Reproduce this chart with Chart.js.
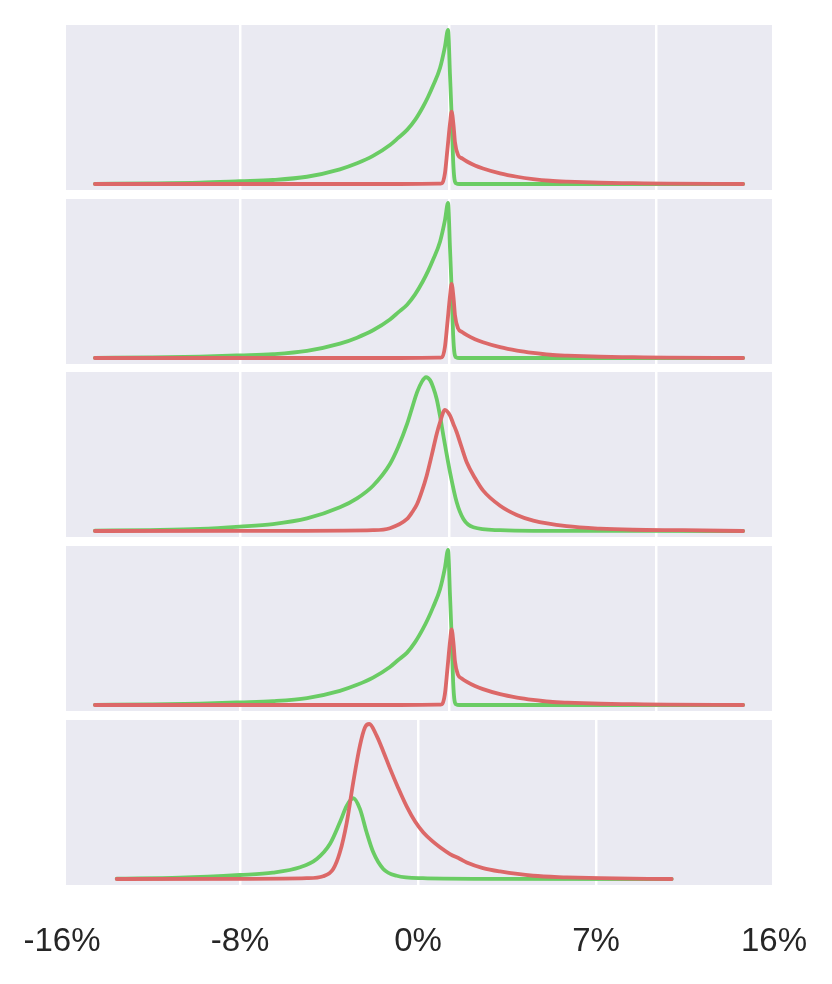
<!DOCTYPE html>
<html>
<head>
<meta charset="utf-8">
<script src="https://cdn.jsdelivr.net/npm/chart.js@4"></script>
<style>
  body { margin:0; background:#fff; }
  #wrap { position:relative; width:832px; height:984px; }
  canvas { position:absolute; left:0; }
</style>
</head>
<body>
<div id="wrap">
  <canvas id="p1" width="832" height="165" style="top:25px"></canvas>
  <canvas id="p2" width="832" height="165" style="top:199px"></canvas>
  <canvas id="p3" width="832" height="165" style="top:372px"></canvas>
  <canvas id="p4" width="832" height="165" style="top:546px"></canvas>
  <canvas id="p5" width="832" height="264" style="top:720px"></canvas>
</div>
<script>
// shared bottom axis
const tickLabels = ['-16%', '-8%', '0%', '7%', '16%'];
const tickPos = [-16, -8, 0, 8, 16];
const gridTop = [-8, 1.39, 10.73];   // white lines in panels 1-4
const gridBottom = [-8, 0, 8];       // white lines in panel 5

// panels 1, 2, 4 (same x grid)
const sharpGreenX = [-14.52, -12.04, -9.80, -8.00, -6.52, -4.99, -3.51, -2.74, -2.02, -1.26, -0.89, -0.49, -0.13, 0.22, 0.45, 0.67, 0.99, 1.21, 1.35, 1.44, 1.51, 1.58, 1.64, 1.72, 1.85, 14.61];
const p1GreenY = [0.001, 0.004, 0.009, 0.018, 0.026, 0.047, 0.095, 0.134, 0.182, 0.253, 0.299, 0.351, 0.416, 0.500, 0.565, 0.636, 0.753, 0.890, 1.000, 0.700, 0.450, 0.150, 0.030, 0.004, 0, 0];
const p2GreenY = [0.001, 0.004, 0.009, 0.017, 0.025, 0.046, 0.093, 0.132, 0.180, 0.250, 0.296, 0.346, 0.413, 0.498, 0.564, 0.636, 0.755, 0.893, 1.006, 0.705, 0.452, 0.150, 0.030, 0.004, 0, 0];
const p4GreenY = [0.001, 0.004, 0.009, 0.017, 0.025, 0.045, 0.092, 0.131, 0.178, 0.247, 0.292, 0.340, 0.408, 0.494, 0.560, 0.632, 0.752, 0.890, 1.006, 0.705, 0.452, 0.150, 0.030, 0.004, 0, 0];

const sharpRedX = [-14.52, -5.30, -0.81, 0.90, 1.08, 1.21, 1.32, 1.44, 1.51, 1.60, 1.66, 1.80, 1.98, 2.20, 2.56, 2.92, 3.69, 4.45, 5.17, 5.93, 6.70, 8.18, 9.66, 11.19, 14.61];
const p1RedY = [0, 0, 0, 0.002, 0.005, 0.069, 0.221, 0.394, 0.469, 0.377, 0.273, 0.188, 0.166, 0.146, 0.120, 0.101, 0.069, 0.047, 0.032, 0.021, 0.015, 0.008, 0.005, 0.002, 0];
const p2RedY = [0, 0, 0, 0.002, 0.005, 0.071, 0.226, 0.404, 0.481, 0.386, 0.280, 0.192, 0.169, 0.148, 0.122, 0.102, 0.070, 0.048, 0.033, 0.021, 0.015, 0.008, 0.005, 0.002, 0];
const p4RedY = [0, 0, 0, 0.002, 0.005, 0.072, 0.230, 0.412, 0.490, 0.393, 0.284, 0.195, 0.171, 0.150, 0.123, 0.103, 0.070, 0.048, 0.033, 0.021, 0.015, 0.008, 0.005, 0.002, 0];

// panel 3
const p3GreenX = [-14.52, -12.04, -9.80, -8.00, -6.52, -4.99, -3.51, -2.74, -2.02, -1.26, -0.89, -0.49, -0.28, -0.04, 0.17, 0.36, 0.54, 0.69, 0.84, 0.99, 1.14, 1.44, 1.74, 2.04, 2.49, 3.69, 5.17, 14.61];
const p3GreenY = [0.002, 0.006, 0.013, 0.028, 0.045, 0.082, 0.154, 0.212, 0.294, 0.435, 0.545, 0.695, 0.792, 0.901, 0.968, 0.998, 0.979, 0.929, 0.857, 0.747, 0.619, 0.381, 0.186, 0.078, 0.024, 0.005, 0.001, 0];
const p3RedX = [-14.52, -5.30, -2.02, -1.26, -0.49, -0.27, -0.04, 0.18, 0.39, 0.62, 0.84, 0.99, 1.21, 1.44, 1.59, 1.74, 1.96, 2.19, 2.56, 2.93, 3.69, 4.44, 5.18, 6.68, 8.18, 9.66, 11.91, 14.61];
const p3RedY = [0, 0.001, 0.005, 0.018, 0.078, 0.120, 0.175, 0.260, 0.359, 0.494, 0.630, 0.706, 0.786, 0.749, 0.695, 0.641, 0.544, 0.446, 0.344, 0.262, 0.164, 0.104, 0.067, 0.031, 0.015, 0.008, 0.005, 0];

// panel 5
const p5GreenX = [-13.54, -10.70, -8.00, -6.52, -5.30, -4.55, -3.96, -3.51, -3.20, -2.91, -2.61, -2.31, -2.01, -1.56, -0.96, 0.22, 2.79, 11.40];
const p5GreenY = [0.002, 0.008, 0.026, 0.041, 0.076, 0.130, 0.227, 0.368, 0.476, 0.524, 0.455, 0.303, 0.173, 0.065, 0.021, 0.005, 0.001, 0];
const p5RedX = [-13.54, -7.55, -5.00, -4.26, -3.81, -3.51, -3.20, -2.91, -2.61, -2.38, -2.19, -1.86, -1.56, -1.26, -0.89, -0.51, -0.13, 0.24, 0.62, 0.99, 1.44, 1.89, 2.19, 2.92, 3.69, 5.17, 6.68, 8.18, 11.40];
const p5RedY = [0, 0.001, 0.005, 0.018, 0.065, 0.173, 0.368, 0.628, 0.866, 0.985, 1.006, 0.931, 0.828, 0.718, 0.591, 0.471, 0.373, 0.302, 0.249, 0.206, 0.162, 0.130, 0.107, 0.071, 0.049, 0.021, 0.011, 0.005, 0];

const GREEN = '#6ACC64';
const RED = '#DC6868';

Chart.defaults.font.family = "'Liberation Sans', Arial, sans-serif";

function pts(xs, ys){
  return xs.map((x, i) => ({ x: x, y: ys[i] }));
}

// seaborn style grey panel
const bgPlugin = {
  id: 'panelBg',
  beforeDraw(chart){
    const a = chart.chartArea, ctx = chart.ctx;
    ctx.save();
    ctx.fillStyle = '#EAEAF2';
    ctx.fillRect(a.left, a.top, a.right - a.left, a.bottom - a.top);
    ctx.restore();
  }
};

function panel(id, gx, gy, rx, ry, grid, showTicks){
  new Chart(document.getElementById(id), {
    type: 'line',
    data: { datasets: [
      { data: pts(rx, ry), borderColor: RED, order: 0 },
      { data: pts(gx, gy), borderColor: GREEN, order: 1 }
    ]},
    options: {
      responsive: false,
      animation: false,
      layout: { padding: { left: 66, right: 60, top: 0, bottom: 0 } },
      plugins: { legend: { display: false }, tooltip: { enabled: false } },
      elements: {
        point: { radius: 0 },
        line: { borderWidth: 3.8, cubicInterpolationMode: 'monotone', borderCapStyle: 'round', borderJoinStyle: 'round' }
      },
      scales: {
        x: {
          type: 'linear', min: -15.82, max: 15.91,
          afterBuildTicks: s => { s.ticks = (showTicks ? tickPos : grid).map(v => ({ value: v })); },
          afterFit: s => {
            s.paddingLeft = 0; s.paddingRight = 0; s.paddingTop = 0; s.paddingBottom = 0;
            s.height = showTicks ? 99 : 0;
          },
          grid: {
            color: c => (c.tick && grid.includes(c.tick.value)) ? '#ffffff' : 'rgba(0,0,0,0)',
            lineWidth: 2.5, drawTicks: false
          },
          border: { display: false },
          ticks: {
            display: showTicks, padding: 37, autoSkip: false, maxRotation: 0,
            font: { size: 33 }, color: '#262626',
            callback: (v, i) => tickLabels[i]
          }
        },
        y: { display: false, min: -0.039, max: 1.032 }
      }
    },
    plugins: [bgPlugin]
  });
}

panel('p1', sharpGreenX, p1GreenY, sharpRedX, p1RedY, gridTop, false);
panel('p2', sharpGreenX, p2GreenY, sharpRedX, p2RedY, gridTop, false);
panel('p3', p3GreenX, p3GreenY, p3RedX, p3RedY, gridTop, false);
panel('p4', sharpGreenX, p4GreenY, sharpRedX, p4RedY, gridTop, false);
panel('p5', p5GreenX, p5GreenY, p5RedX, p5RedY, gridBottom, true);
</script>
</body>
</html>
